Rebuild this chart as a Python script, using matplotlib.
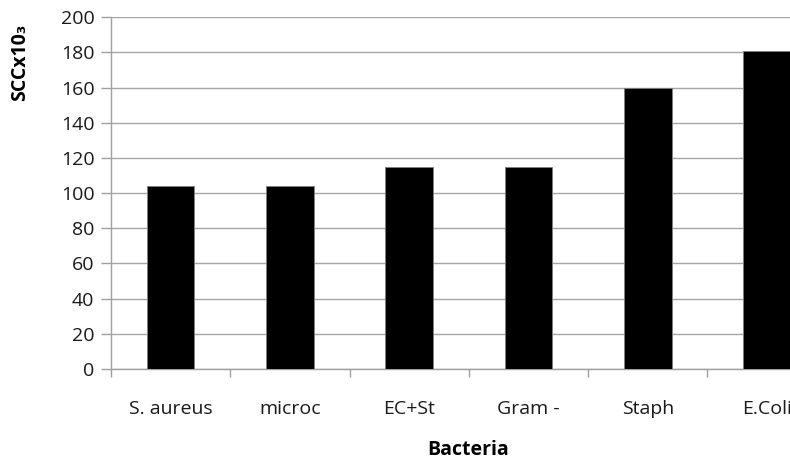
import numpy as np
import matplotlib.pyplot as plt

plt.rcParams['font.family'] = ['Open Sans', 'DejaVu Sans']

# bacteria groups and somatic cell counts (x10^3)
bacteria = ['S. aureus', 'microc', 'EC+St', 'Gram -', 'Staph', 'E.Coli']
scc = [104, 104, 115, 115, 160, 181]

fig = plt.figure(figsize=(7.9, 4.63), dpi=100)
ax = fig.add_axes([0.1405, 0.203, 0.906, 0.760])

x = np.arange(len(bacteria))
ax.bar(x, scc, width=0.4, color='black', edgecolor='#808080', linewidth=0.6, zorder=3)

ax.set_ylim(0, 200)
ax.set_yticks(np.arange(0, 201, 20))
ax.set_xlim(-0.5, len(bacteria) - 0.5)
ax.set_xticks(x)
ax.set_xticklabels(bacteria)
ax.set_xticks(np.arange(-0.5, len(bacteria)), minor=True)

ax.grid(axis='y', color='#a6a6a6', linewidth=1.0, zorder=0)
for side in ['top', 'right']:
    ax.spines[side].set_visible(False)
for side in ['left', 'bottom']:
    ax.spines[side].set_color('#a0a0a0')
    ax.spines[side].set_linewidth(1.0)

ax.tick_params(axis='y', length=7, width=1.0, color='#a0a0a0', labelsize=14, pad=5, labelcolor='#1a1a1a')
ax.tick_params(axis='x', which='major', length=0, labelsize=14, pad=22, labelcolor='#1a1a1a')
ax.tick_params(axis='x', which='minor', length=6, width=1.0, color='#a0a0a0')

fig.text(20 / 790, 1 - 62 / 463, 'SCCx10₃', fontsize=14, fontweight='bold',
         rotation=90, ha='center', va='center')
fig.text(468 / 790, 1 - 450 / 463, 'Bacteria', fontsize=14, fontweight='bold',
         ha='center', va='center')

fig.savefig('out.png', dpi=100)
